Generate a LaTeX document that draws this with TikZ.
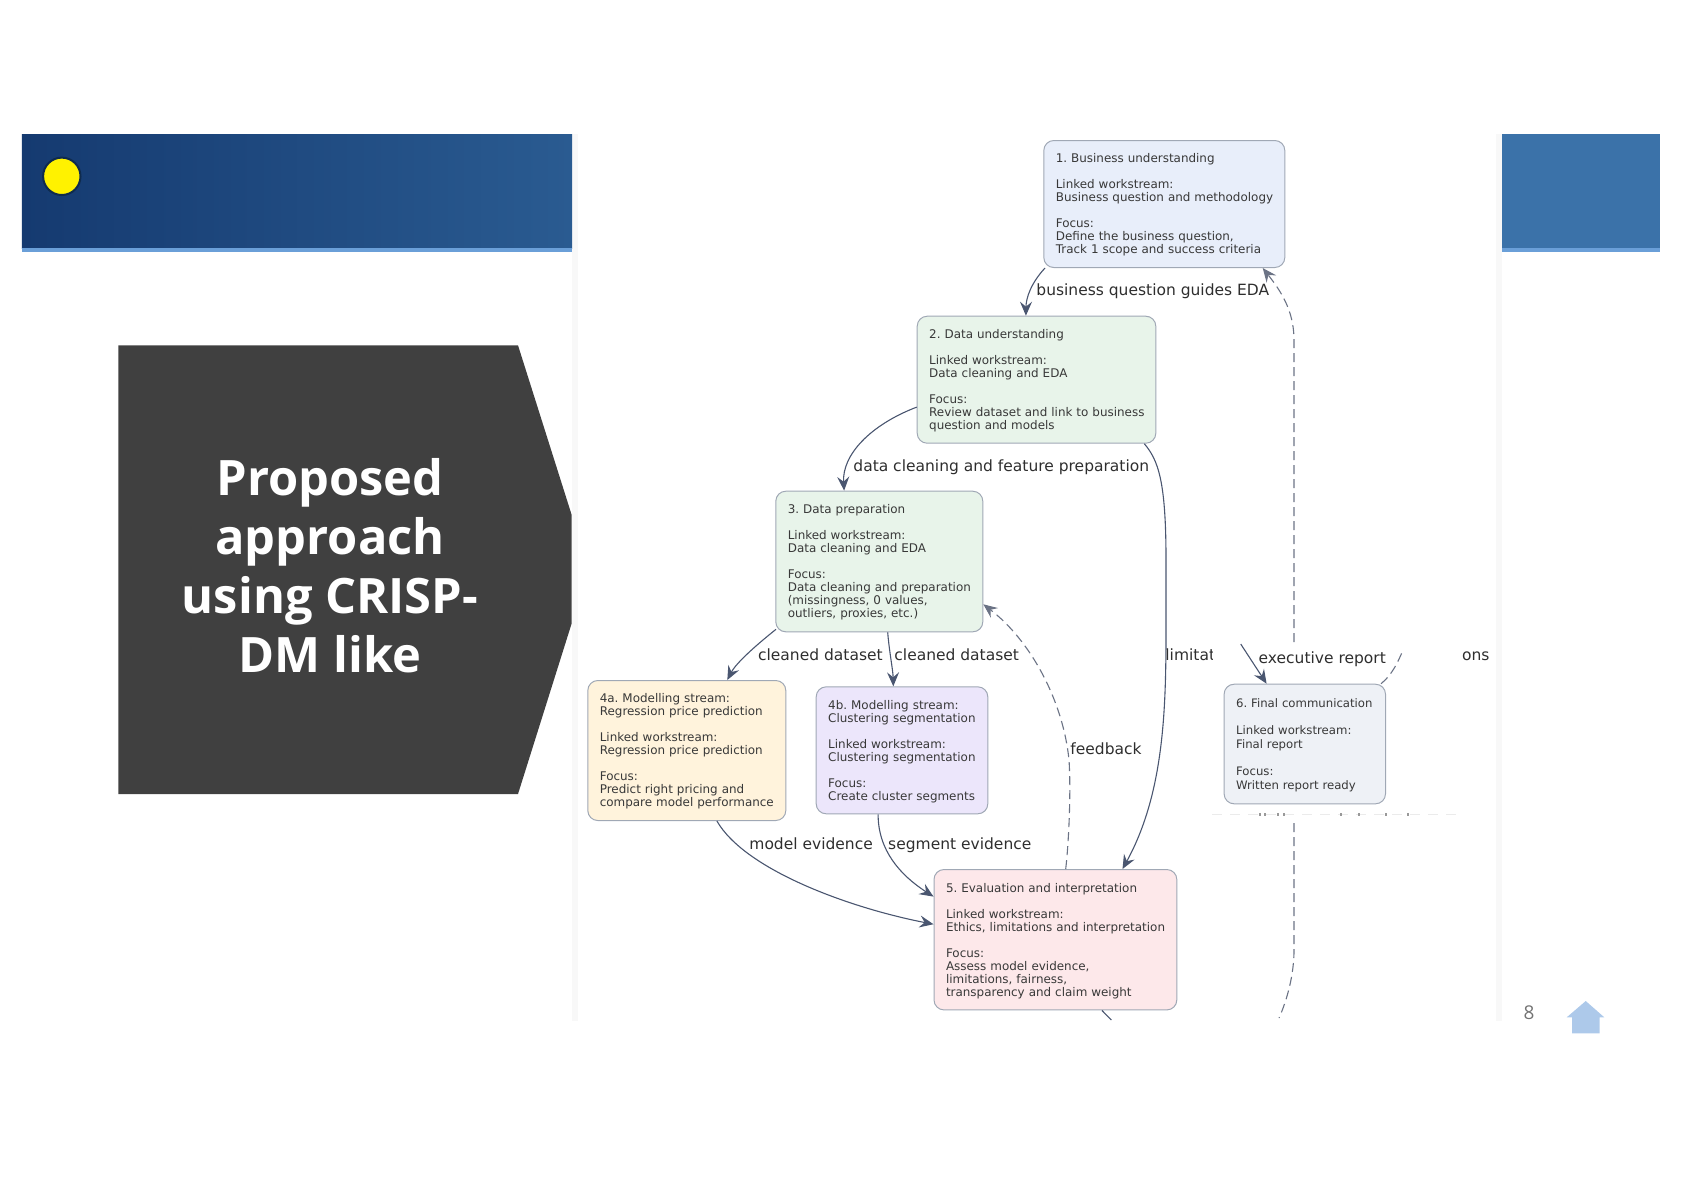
\documentclass[tikz,border=0pt]{standalone}
\usepackage{fontspec}
\newfontfamily\graphfont{DejaVu Sans}
\newfontfamily\slidefont{Open Sans}
\usetikzlibrary{positioning, calc, arrows.meta}

\definecolor{bandleft}{HTML}{153A70}
\definecolor{bandright}{HTML}{2A5B91}
\definecolor{bandplain}{HTML}{3B72A9}
\definecolor{bandline}{HTML}{6A9FD8}
\definecolor{paleedge}{HTML}{F8F8F8}
\definecolor{darkpanel}{HTML}{404040}
\definecolor{homeblue}{HTML}{ADC9EA}
\definecolor{boxedge}{HTML}{A0A8B5}
\definecolor{flowcol}{HTML}{4A5670}
\definecolor{dashcol}{HTML}{6B7385}
\definecolor{bizfill}{HTML}{E8EEFA}
\definecolor{datafill}{HTML}{E8F4EA}
\definecolor{regfill}{HTML}{FFF3DC}
\definecolor{clusfill}{HTML}{ECE6FB}
\definecolor{evalfill}{HTML}{FDE8EA}
\definecolor{reportfill}{HTML}{EEF1F6}
\definecolor{dotline}{HTML}{0F2B4D}

\tikzset{
    stagebox/.style n args={3}{draw=boxedge, fill=#1, line width=0.5pt,
        rounded corners=5pt, anchor=north west, align=left, inner xsep=3.5pt,
        inner ysep=0pt, text width=#2-7pt, minimum height=#3, text=black!78,
        execute at begin node={\rule{0pt}{5.6pt}\leftskip=2.5pt\frenchspacing},
        font=\graphfont\fontsize{5.97}{6.5}\selectfont},
    edgelabel/.style={anchor=base west, inner sep=0pt, text=black!82,
        font=\graphfont\fontsize{7.75}{9}\selectfont},
    flow/.style={draw=flowcol, line width=0.55pt,
        -{Stealth[length=7pt, width=6pt, inset=2.5pt]}},
    flowplain/.style={draw=flowcol, line width=0.55pt},
    backflow/.style={flow, draw=dashcol, dash pattern=on 4.5pt off 2.5pt},
    backplain/.style={draw=dashcol, line width=0.55pt, dash pattern=on 4.5pt off 2.5pt}
}

\begin{document}
\begin{tikzpicture}[x=0.5pt, y=-0.5pt]
    \useasboundingbox (0,0) rectangle (1684,1191);

    % slide furniture
    \fill[paleedge] (572,134) rectangle (578,1021);
    \fill[paleedge] (1496,134) rectangle (1502,1021);
    \shade[left color=bandleft, right color=bandright] (21.8,134) rectangle (572,248);
    \fill[bandline] (21.8,248) rectangle (572,252);
    \fill[bandplain] (1502,134) rectangle (1660,248);
    \fill[bandline] (1502,248) rectangle (1660,252);
    \draw[fill=yellow, draw=dotline, line width=1pt] (61.8,176.3) circle (18.7);
    \fill[darkpanel] (118.3,345.3) -- (518,345.3) -- (571.7,515) -- (571.7,623.3)
        -- (518,794) -- (118.3,794) -- cycle;
    \node[align=center, text=white, inner sep=0pt,
        font=\slidefont\bfseries\fontsize{24.4}{29.5}\selectfont] (title) at (330,566)
        {Proposed\\approach\\using CRISP-\\DM like};
    \node[text=black!55, inner sep=0pt, font=\slidefont\fontsize{9.5}{11}\selectfont]
        (pagenum) at (1529,1012.7) {8};
    \fill[homeblue] (1585.7,1001) -- (1604.3,1017.3) -- (1599.7,1017.3) -- (1599.7,1033.3)
        -- (1572,1033.3) -- (1572,1017.3) -- (1566.7,1017.3) -- cycle;

    % stages
    \node[stagebox={bizfill}{120.5pt}{63.5pt}] (business) at (1043.3,140) {1. Business understanding\\[6.5pt]
        Linked workstream:\\Business question and methodology\\[6.5pt]
        Focus:\\Define the business question,\\Track 1 scope and success criteria};
    \node[stagebox={datafill}{119.3pt}{63.5pt}] (understand) at (916.7,315.7) {2. Data understanding\\[6.5pt]
        Linked workstream:\\Data cleaning and EDA\\[6.5pt]
        Focus:\\Review dataset and link to business\\question and models};
    \node[stagebox={datafill}{103.5pt}{70.3pt}] (prepare) at (775.3,490.7) {3. Data preparation\\[6.5pt]
        Linked workstream:\\Data cleaning and EDA\\[6.5pt]
        Focus:\\Data cleaning and preparation\\(missingness, 0 values,\\outliers, proxies, etc.)};
    \node[stagebox={regfill}{99pt}{70pt}] (regress) at (587.3,680) {4a. Modelling stream:\\Regression price prediction\\[6.5pt]
        Linked workstream:\\Regression price prediction\\[6.5pt]
        Focus:\\Predict right pricing and\\compare model performance};
    \node[stagebox={clusfill}{85.8pt}{63.5pt}] (cluster) at (815.7,686.3) {4b. Modelling stream:\\Clustering segmentation\\[6.5pt]
        Linked workstream:\\Clustering segmentation\\[6.5pt]
        Focus:\\Create cluster segments};
    \node[stagebox={evalfill}{121.4pt}{70.2pt}] (evaluate) at (933.5,869) {5. Evaluation and interpretation\\[6.5pt]
        Linked workstream:\\Ethics, limitations and interpretation\\[6.5pt]
        Focus:\\Assess model evidence,\\limitations, fairness,\\transparency and claim weight};
    \node[stagebox={reportfill}{80.7pt}{59.8pt}, font=\graphfont\fontsize{5.85}{6.8}\selectfont] (report) at (1223.6,683.7) {6. Final communication\\[6.8pt]
        Linked workstream:\\Final report\\[6.8pt]
        Focus:\\Written report ready};

    % free ends where the picture is cut off
    \coordinate (reportin) at (1240.7,644);
    \coordinate (reportout) at (1403.3,649.3);
    \coordinate (evalout) at (1111.4,1020);
    \coordinate (returntop) at (1294,642);
    \coordinate (returnmid) at (1294,823);
    \coordinate (returnlow) at (1279,1018);

    % connectors
    \draw[flow] ([xshift=0.85pt]business.south west) .. controls (1031,283) and (1026,298) .. ([xshift=54.6pt]understand.north west);
    \draw[flow] ([yshift=-45.7pt]understand.north west) .. controls (870,425) and (842,455) .. ([xshift=34.4pt]prepare.north west);
    \draw[flow] ([xshift=-6pt]understand.south east) .. controls (1158,460) and (1166,480) .. (1166,560) -- (1166,620)
        .. controls (1166,700) and (1166,790) .. ([xshift=94.5pt]evaluate.north west);
    \draw[flow] ([xshift=0.35pt,yshift=1.5pt]prepare.south west) .. controls (750,650) and (735,665) .. ([xshift=70pt]regress.north west);
    \draw[flow] ([xshift=56.2pt]prepare.south west) .. controls (889,650) and (893,670) .. ([xshift=38.8pt]cluster.north west);
    \draw[flow] ([xshift=64.8pt]regress.south west) .. controls (745,870) and (850,908) .. ([yshift=-27.6pt]evaluate.north west);
    \draw[flow] ([xshift=31.2pt]cluster.south west) .. controls (878,850) and (900,875) .. ([yshift=-13.8pt]evaluate.north west);
    \draw[backflow] ([xshift=66.1pt]evaluate.north west) .. controls (1069,840) and (1071,790) .. (1069,760)
        .. controls (1063,700) and (1030,640) .. ([yshift=-56.8pt]prepare.north east);
    \draw[backflow] (returntop) -- (1294,340) .. controls (1294,310) and (1280,290) .. ([xshift=-11.3pt]business.south east);
    \draw[backplain] (returnmid) -- (1294,950) .. controls (1294,975) and (1287,1000) .. (returnlow);
    \draw[flowplain] ([xshift=84.2pt]evaluate.south west) -- (evalout);
    \draw[flow] (reportin) -- ([xshift=21.5pt]report.north west);
    \draw[backplain] ([xshift=-2.5pt]report.north east) .. controls (1392,675) and (1398,662) .. (reportout);

    % connector labels
    \node[edgelabel] (lblguides) at (1036,295.7) {business question guides EDA};
    \node[edgelabel] (lblfeature) at (853,471.5) {data cleaning and feature preparation};
    \node[edgelabel] (lblcleana) at (757.7,660) {cleaned dataset};
    \node[edgelabel] (lblcleanb) at (894,660) {cleaned dataset};
    \begin{scope}
        \clip (1160,640) rectangle (1212,670);
        \node[edgelabel] (lbllimit) at (1165,660) {limitat};
    \end{scope}
    \node[edgelabel] (lblexec) at (1258.3,663.3) {executive report};
    \node[edgelabel] (lblons) at (1461.7,660.5) {ons};
    \node[edgelabel] (lblfeed) at (1070,754) {feedback};
    \node[edgelabel] (lblmodel) at (749,849) {model evidence};
    \node[edgelabel] (lblsegment) at (887.8,849) {segment evidence};

    % cut off remains of a label under box 6
    \draw[black!8, line width=0.4pt, dash pattern=on 5pt off 4pt] (1212,814.5) -- (1462,814.5);
    \foreach \xpos in {1259,1264,1277,1283,1340,1358,1385,1407}
        \fill[black!40] (\xpos,813) rectangle ++(1.6,2.6);
\end{tikzpicture}
\end{document}
